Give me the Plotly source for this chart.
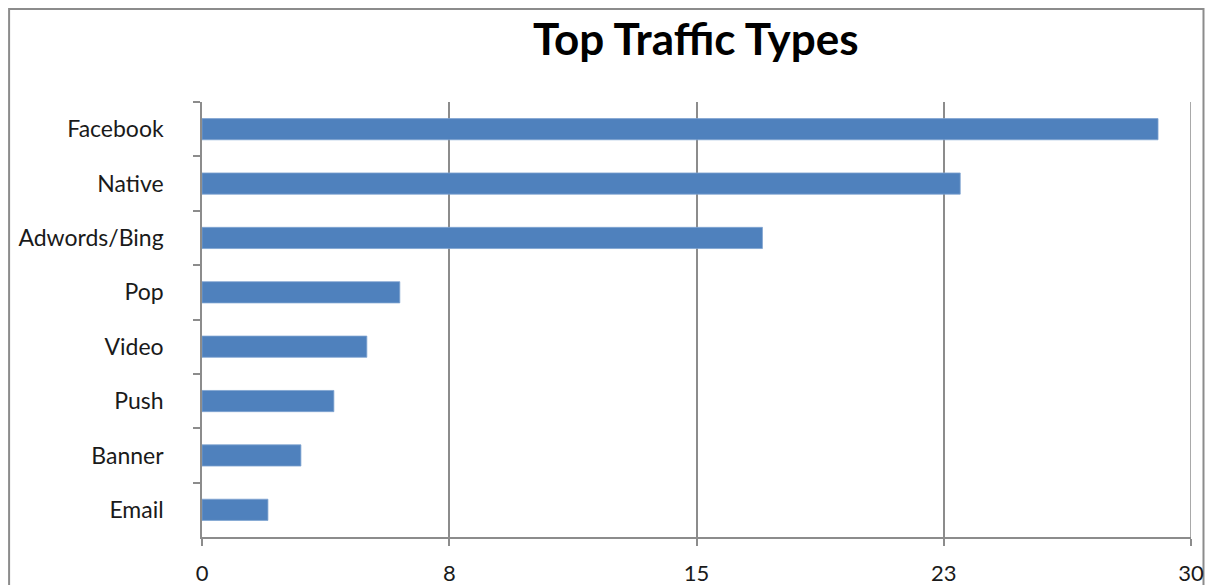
import plotly.graph_objects as go

categories = ["Facebook", "Native", "Adwords/Bing", "Pop", "Video", "Push", "Banner", "Email"]
values = [29, 23, 17, 6, 5, 4, 3, 2]
tick_vals = [0, 7.5, 15, 22.5, 30]
tick_text = ["0", "8", "15", "23", "30"]

W, H = 1209, 585
L, R, T, B = 202, 1191.5, 102, 537

fig = go.Figure(go.Bar(
    x=values, y=categories, orientation="h",
    marker=dict(color="#4F81BD", line=dict(color="#7FA3D0", width=0.8)),
))

def px_x(p):
    return (p - L) / (R - L)

def px_y(p):
    return (B - p) / (B - T)

fig.add_shape(type="rect", xref="paper", yref="paper",
              x0=px_x(9), x1=px_x(1204), y0=px_y(640), y1=px_y(9),
              line=dict(color="#8c8c8c", width=2), fillcolor="rgba(0,0,0,0)", layer="below")
# gridline at the right edge of the value axis
fig.add_shape(type="line", xref="x", yref="paper", x0=tick_vals[-1], x1=tick_vals[-1],
              y0=0, y1=1, line=dict(color="#8c8c8c", width=1.5), layer="below")

fig.update_layout(
    width=W, height=H,
    margin=dict(l=L, r=W - R, t=T, b=H - B, autoexpand=False),
    paper_bgcolor="white", plot_bgcolor="white",
    bargap=0.61,
    showlegend=False,
    font=dict(family="Lato, Open Sans, sans-serif", color="#1a1a1a"),
    title=dict(text="<b>Top Traffic Types</b>", x=px_x(696), xanchor="center",
               xref="paper", y=1 - 40 / H, yanchor="middle",
               font=dict(size=44, color="black", family="Lato, Open Sans, sans-serif")),
    xaxis=dict(range=[0, 30], tickvals=tick_vals, ticktext=tick_text,
               showgrid=True, gridcolor="#8c8c8c", gridwidth=1.5,
               showline=True, linecolor="#8c8c8c", linewidth=1.5,
               ticks="outside", ticklen=7, tickcolor="#8c8c8c", tickwidth=1.5,
               tickfont=dict(size=22, color="#1a1a1a"), ticklabelstandoff=9,
               zeroline=False, fixedrange=True, automargin=False),
    yaxis=dict(autorange="reversed", showgrid=False,
               showline=True, linecolor="#8c8c8c", linewidth=1.5,
               ticks="outside", ticklen=7, tickcolor="#8c8c8c", tickwidth=1.5,
               tickson="boundaries",
               tickfont=dict(size=23, color="#1a1a1a"), ticklabelstandoff=32,
               fixedrange=True, automargin=False),
)

fig.write_html("out.html")
